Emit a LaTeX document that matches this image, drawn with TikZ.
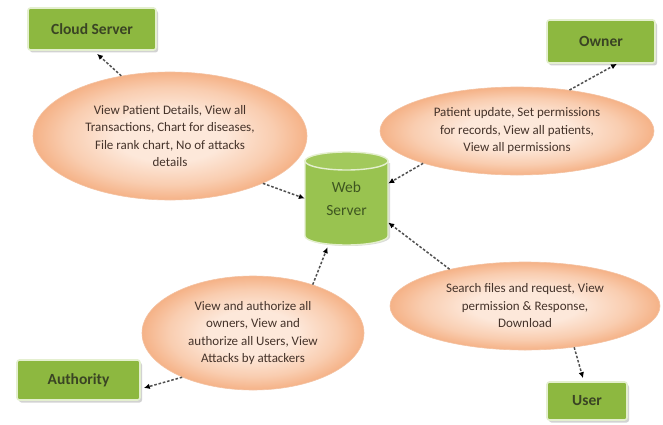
\documentclass[tikz,border=0pt]{standalone}
\usepackage{fontspec}
\setmainfont{Carlito}
\usetikzlibrary{arrows.meta,shadows,shapes.geometric}
\definecolor{boxgreen}{HTML}{8DB840}
\definecolor{boxedge}{HTML}{E4EFCF}
\definecolor{boxtext}{HTML}{3A4424}
\definecolor{cylgreen}{HTML}{99C350}
\definecolor{cyltop}{HTML}{A2C95C}
\definecolor{cyltext}{HTML}{3E5620}
\definecolor{peachout}{HTML}{F5B287}
\definecolor{peachmid}{HTML}{F9CDB0}
\definecolor{peachin}{HTML}{FDE8DA}
\definecolor{peachedge}{HTML}{F4C2A2}
\definecolor{elltext}{HTML}{45332A}
\definecolor{dashgray}{HTML}{505050}
\pgfdeclareradialshading{peachshade}{\pgfpoint{0bp}{0bp}}{color(0bp)=(peachin); color(10bp)=(peachin); color(19bp)=(peachmid); color(25bp)=(peachout); color(50bp)=(peachout)}
\begin{document}
\begin{tikzpicture}[x=1pt,y=-1pt,
  actor/.style={draw=boxedge,line width=1.6pt,fill=boxgreen,rounded corners=2.5pt,
    drop shadow={shadow xshift=2pt,shadow yshift=-2.5pt,opacity=0.35},
    text=boxtext,font=\fontsize{15.5}{17}\selectfont\bfseries,inner sep=0pt},
  task/.style={ellipse,draw=peachedge,line width=0.6pt,shading=peachshade,
    text=elltext,align=center,inner sep=0pt,
    font=\fontsize{13}{17.5}\selectfont},
  conn/.style={dashgray,line width=1.5pt,dash pattern=on 2.6pt off 1.8pt,
    -{Latex[length=6pt,width=5.5pt,black]},shorten >=0pt}
]
\useasboundingbox (0,0) rectangle (663,425);
\fill[white] (0,0) rectangle (663,425);

% actor boxes
\node[actor,minimum width=128pt,minimum height=42pt] (cs) at (92,29) {Cloud Server};
\node[actor,minimum width=108pt,minimum height=43pt] (own) at (601,41.5) {Owner};
\node[actor,minimum width=123pt,minimum height=40pt] (auth) at (78.5,380) {Authority};
\node[actor,minimum width=80pt,minimum height=38pt] (usr) at (587,401) {User};

% web server cylinder
\node[minimum width=83pt,minimum height=93pt,inner sep=0pt] (ws) at (346.5,198.5) {};
\fill[black,opacity=0.15] (307,163) -- (307,237) arc[start angle=180,end angle=360,x radius=41.5pt,y radius=9pt] -- (390,163) -- cycle;
\draw[boxedge,line width=1.4pt,fill=cylgreen] (305,161) -- (305,236)
  arc[start angle=180,end angle=360,x radius=41.5pt,y radius=9pt] -- (388,161) -- cycle;
\draw[boxedge,line width=1.4pt,fill=cyltop] (346.5,161) ellipse[x radius=41.5pt,y radius=9pt];
\node[text=cyltext,align=center,font=\fontsize{15.5}{23}\selectfont] (wst) at (346.5,199) {Web\\Server};

% task ellipses
\node[task,minimum width=274pt,minimum height=128pt] (e1) at (170,136)
  {View Patient Details, View all\\Transactions, Chart for diseases,\\File rank chart, No of attacks\\details};
\node[task,minimum width=274pt,minimum height=88pt] (e2) at (517,131)
  {Patient update, Set permissions\\for records, View all patients,\\View all permissions};
\node[task,minimum width=222pt,minimum height=114pt] (e3) at (253,333)
  {View and authorize all\\owners, View and\\authorize all Users, View\\Attacks by attackers};
\node[task,minimum width=270pt,minimum height=88pt] (e4) at (525,306)
  {Search files and request, View\\permission \& Response,\\Download};

% connectors
\draw[conn] (e1.129) -- ([xshift=5pt,yshift=-3pt]cs.south);
\draw[conn] (e1.-27) -- (ws.west);
\draw[conn] (e2.38) -- ([xshift=16pt]own.south);
\draw[conn] (e2.199) -- ([yshift=15pt]ws.east);
\draw[conn] (e3.212) -- ([yshift=-8pt,xshift=3pt]auth.east);
\draw[conn] (e3.39) -- ([xshift=-19pt,yshift=-2pt]ws.south);
\draw[conn] (e4.154) -- ([yshift=-24pt]ws.east);
\draw[conn] (e4.-40) -- ([xshift=-4pt,yshift=3pt]usr.north);
\end{tikzpicture}
\end{document}
